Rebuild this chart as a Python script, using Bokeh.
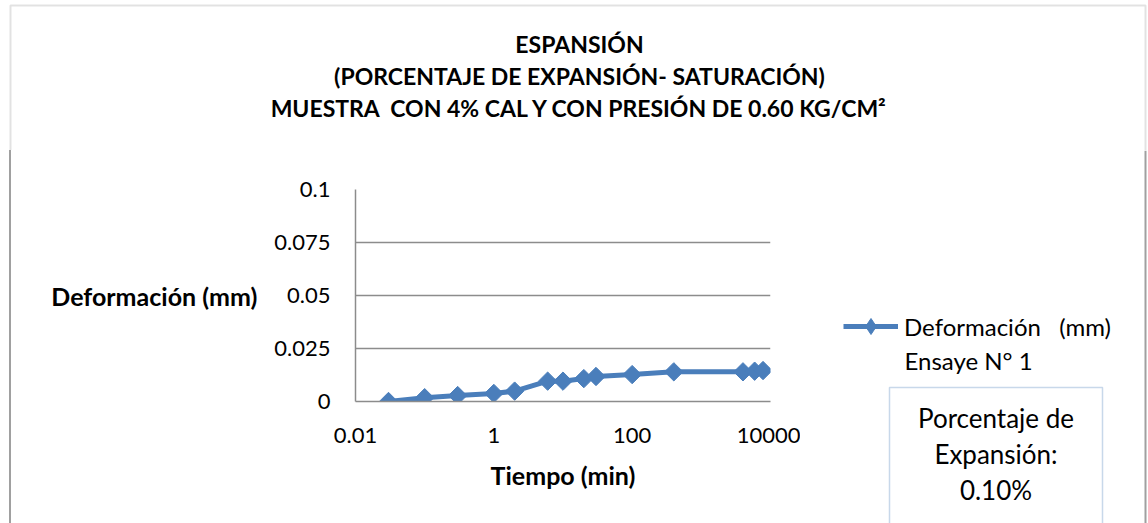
import numpy as np
from bokeh.plotting import figure
from bokeh.layouts import column, row
from bokeh.models import (Label, Legend, LegendItem, FixedTicker, Range1d, BoxAnnotation,
                          Span, Div, Spacer)
from bokeh.embed import file_html
from bokeh.resources import INLINE

# ---- data ----
tiempo_min = [0.03, 0.1, 0.3, 1, 2, 6, 10, 20, 30, 100, 400, 4000, 5900, 7800]
deformacion_mm = [0.0, 0.0018, 0.0028, 0.0038, 0.0049, 0.0096, 0.0096, 0.0108,
                  0.0118, 0.0127, 0.0140, 0.0140, 0.0143, 0.0146]
x_ticks = [0.01, 1, 100, 10000]
x_tick_labels = ["0.01", "1", "100", "10000"]
y_ticks = [0, 0.025, 0.05, 0.075, 0.1]
y_tick_labels = ["0", "0.025", "0.05", "0.075", "0.1"]
title_lines = ["ESPANSIÓN",
               "(PORCENTAJE DE EXPANSIÓN- SATURACIÓN)",
               "MUESTRA\u00a0 CON 4% CAL Y CON PRESIÓN DE 0.60 KG/CM²"]
series_label = "Deformación\u00a0\u00a0 (mm)"
series_label2 = "Ensaye N° 1"
box_lines = ["Porcentaje de", "Expansión:", "0.10%"]
x_title = "Tiempo (min)"
y_title = "Deformación (mm)"

BLUE = "#4A7EBB"
GRID = "#8C8C8C"
BORDER = "#A0A0A0"
FONT = "Lato"

TOTAL_W, TOTAL_H = 1148, 523
TOP_H = 150
ROW_H = TOTAL_H - TOP_H
L_W, M_W = 12, 788
S_W = TOTAL_W - L_W - M_W


def blank(w, h, x0, x1, y0, y1):
    f = figure(width=w, height=h, x_range=Range1d(x0, x1), y_range=Range1d(y0, y1),
               x_axis_type=None, y_axis_type=None, output_backend="svg",
               toolbar_location=None, min_border=0, title=None)
    f.outline_line_color = None
    f.background_fill_color = "white"
    f.border_fill_color = "white"
    f.frame_align = False
    return f


# ---- top strip: title ----
T = blank(TOTAL_W, TOP_H, 0, TOTAL_W, TOP_H, 0)
T.add_layout(BoxAnnotation(left=10, right=1145, top=5, bottom=400, fill_alpha=0,
                           line_color=BORDER, line_width=2))
for i, t in enumerate(title_lines):
    T.add_layout(Label(x=579, y=43 + 32 * i, text=t, text_align="center",
                       text_baseline="middle", text_font=FONT, text_font_style="bold",
                       text_font_size="23px", text_color="black"))

# ---- left strip: chart border (thin grey bar) ----
left_strip = [Spacer(width=9, height=ROW_H, margin=0),
              Div(text="", width=2, height=ROW_H, margin=0,
                  styles={"background-color": BORDER}),
              Spacer(width=L_W - 11, height=ROW_H, margin=0)]

# ---- main chart ----
FL, FR, FT, FB = 355 - L_W, 770 - L_W, 189 - TOP_H, 401 - TOP_H
p = figure(width=M_W, height=ROW_H, x_axis_type="log",
           x_range=Range1d(0.01, 10000), y_range=Range1d(0, 0.1),
           output_backend="svg", toolbar_location=None, title=None,
           min_border_left=FL, min_border_right=M_W - FR,
           min_border_top=FT, min_border_bottom=ROW_H - FB)
p.frame_align = False
p.outline_line_color = None
p.background_fill_color = "white"
p.border_fill_color = "white"

p.xaxis.ticker = FixedTicker(ticks=x_ticks)
p.xaxis.major_label_overrides = {t: l for t, l in zip(x_ticks, x_tick_labels)}
p.yaxis.ticker = FixedTicker(ticks=y_ticks)
p.yaxis.major_label_overrides = {t: l for t, l in zip(y_ticks, y_tick_labels)}
for ax in (p.xaxis, p.yaxis):
    ax.major_tick_line_color = None
    ax.major_tick_out = 0
    ax.major_tick_in = 0
    ax.minor_tick_line_color = None
    ax.minor_tick_out = 0
    ax.axis_line_color = GRID
    ax.axis_line_width = 1.5
    ax.major_label_text_font = FONT
    ax.major_label_text_font_size = "22px"
    ax.major_label_text_color = "black"
    ax.axis_label_text_font = FONT
    ax.axis_label_text_font_style = "bold"
    ax.axis_label_text_font_size = "25px"
    ax.axis_label_text_color = "black"
p.xaxis.axis_label = x_title
p.yaxis.axis_label = y_title
p.yaxis.axis_label_orientation = "horizontal"
p.xaxis.major_label_standoff = 26
p.xaxis.axis_label_standoff = 14
p.yaxis.major_label_standoff = 25
p.yaxis.axis_label_standoff = 14

p.xgrid.grid_line_color = None
p.ygrid.ticker = FixedTicker(ticks=y_ticks)
p.ygrid.grid_line_color = GRID
p.ygrid.grid_line_width = 1.5

p.line(tiempo_min, deformacion_mm, line_width=5, color=BLUE)
p.scatter(tiempo_min, deformacion_mm, marker="square", angle=np.pi / 4,
          size=13, color=BLUE)

# ---- right strip: legend + text box ----
S = blank(S_W, ROW_H, 800, TOTAL_W, TOTAL_H, TOP_H)
S.add_layout(Span(location=1145, dimension="height", line_color=BORDER, line_width=2))
# legend proxies: same series, lying outside this strip's visible area
lr = S.line(tiempo_min, deformacion_mm, line_width=5, color=BLUE)
sr = S.scatter(tiempo_min, deformacion_mm, marker="diamond", size=13, color=BLUE)
GH = 40
legend = Legend(items=[LegendItem(label=series_label, renderers=[lr, sr])],
                location=(843 - 800, TOTAL_H - 326 - GH // 2), padding=0, margin=0,
                spacing=0, glyph_width=55, glyph_height=GH, label_standoff=6,
                label_text_font=FONT, label_text_font_size="24px",
                label_text_color="black", border_line_color=None,
                background_fill_alpha=0)
S.add_layout(legend, "center")
S.add_layout(Label(x=904, y=360, text=series_label2, text_align="left",
                   text_baseline="middle", text_font=FONT, text_font_size="24px",
                   text_color="black"))
S.add_layout(BoxAnnotation(left=889, right=1102, top=387, bottom=600, fill_alpha=0,
                           line_color=BLUE, line_width=1.5))
for i, t in enumerate(box_lines):
    S.add_layout(Label(x=995.5, y=417 + 36 * i, text=t, text_align="center",
                       text_baseline="middle", text_font=FONT, text_font_size="26px",
                       text_color="black"))

layout = column(T, row(*left_strip, p, S))
open("out.html", "w").write(file_html(layout, INLINE))
